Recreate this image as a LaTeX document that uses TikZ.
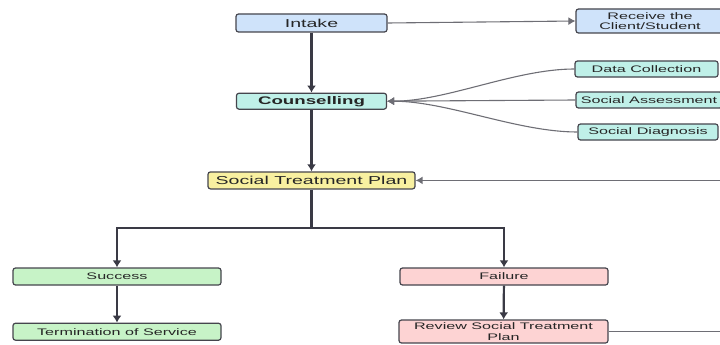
\documentclass[tikz,border=0pt]{standalone}
\usepackage{fontspec}
\usepackage{xcolor}
\usetikzlibrary{arrows.meta, positioning}
\newfontfamily\boxfont[FakeStretch=1.7]{Liberation Sans}
\definecolor{linedark}{HTML}{3A3A45}
\definecolor{linegrey}{HTML}{6E6E75}
\definecolor{boxedge}{HTML}{45454D}
\definecolor{intakefill}{HTML}{CFE3FA}
\definecolor{counselfill}{HTML}{BFF0E8}
\definecolor{planfill}{HTML}{F8F0A0}
\definecolor{successfill}{HTML}{C7F3C7}
\definecolor{failfill}{HTML}{FDD3D3}

\begin{document}
\begin{tikzpicture}[
    x=1pt, y=-1pt,
    box/.style={rectangle, draw=boxedge, fill=#1, line width=1.2pt, rounded corners=2.5pt,
                inner sep=0pt, align=center, text=black!85},
    bigtext/.style={font=\boxfont\fontsize{11.5}{13}\selectfont},
    smalltext/.style={font=\boxfont\fontsize{9.5}{10.5}\selectfont},
    arrow/.style={-{Latex[length=7pt, width=9pt]}, line width=2.2pt, color=linedark},
    thinarrow/.style={-{Latex[length=7pt, width=8pt]}, line width=1.1pt, color=linegrey}
]
\clip (0,0) rectangle (720,345);

% Main column
\node[box=intakefill, bigtext, minimum width=151pt, minimum height=18pt] (intake) at (311.5,23) {Intake};
\node[box=counselfill, bigtext, minimum width=150pt, minimum height=16pt, below=60pt of intake,
      font=\boxfont\bfseries\fontsize{11}{13}\selectfont] (counsel) {Counselling};
\node[box=planfill, bigtext, minimum width=207pt, minimum height=17pt, below=61.5pt of counsel] (plan) {Social Treatment Plan};

% Side boxes
\node[box=intakefill, smalltext, minimum width=148pt, minimum height=24pt] (receive) at (650,21) {Receive the\\Client/Student};
\node[box=counselfill, smalltext, minimum width=143pt, minimum height=16pt] (datacol) at (646.5,69) {Data Collection};
\node[box=counselfill, smalltext, minimum width=146pt, minimum height=16pt] (assess) at (649,100) {Social Assessment};
\node[box=counselfill, smalltext, minimum width=140pt, minimum height=16pt] (diagnose) at (648,132) {Social Diagnosis};

% Outcomes
\node[box=successfill, smalltext, minimum width=208pt, minimum height=17pt] (success) at (117,276.5) {Success};
\node[box=failfill, smalltext, minimum width=208pt, minimum height=17pt] (failure) at (504,276.5) {Failure};
\node[box=successfill, smalltext, minimum width=208pt, minimum height=17pt, below=37pt of success] (terminate) {Termination of Service};
\node[box=failfill, smalltext, minimum width=209pt, minimum height=23pt] (review) at (503.5,331.5) {Review Social Treatment\\Plan};

\coordinate (split) at (311.5,228);
\coordinate (loopturn) at (745,331.5);

% Flow arrows
\draw[thinarrow] (intake.east) -- (receive.west);
\draw[arrow] (intake) -- (counsel);
\draw[arrow] (counsel) -- (plan);
\draw[thinarrow] (datacol.west) to[out=180, in=0, looseness=0.8] (counsel.east);
\draw[thinarrow] (assess.west) -- (counsel.east);
\draw[thinarrow] (diagnose.west) to[out=180, in=0, looseness=0.8] (counsel.east);
\draw[arrow] (plan.south) -- (split) -| (success.north);
\draw[arrow] (split) -| (failure.north);
\draw[arrow, line width=1.5pt] (success) -- (terminate);
\draw[arrow] (failure) -- (review);

% Review loops back to the plan
\draw[thinarrow, line width=1.4pt] (review.east) -- (loopturn) |- (plan.east);

\end{tikzpicture}
\end{document}
